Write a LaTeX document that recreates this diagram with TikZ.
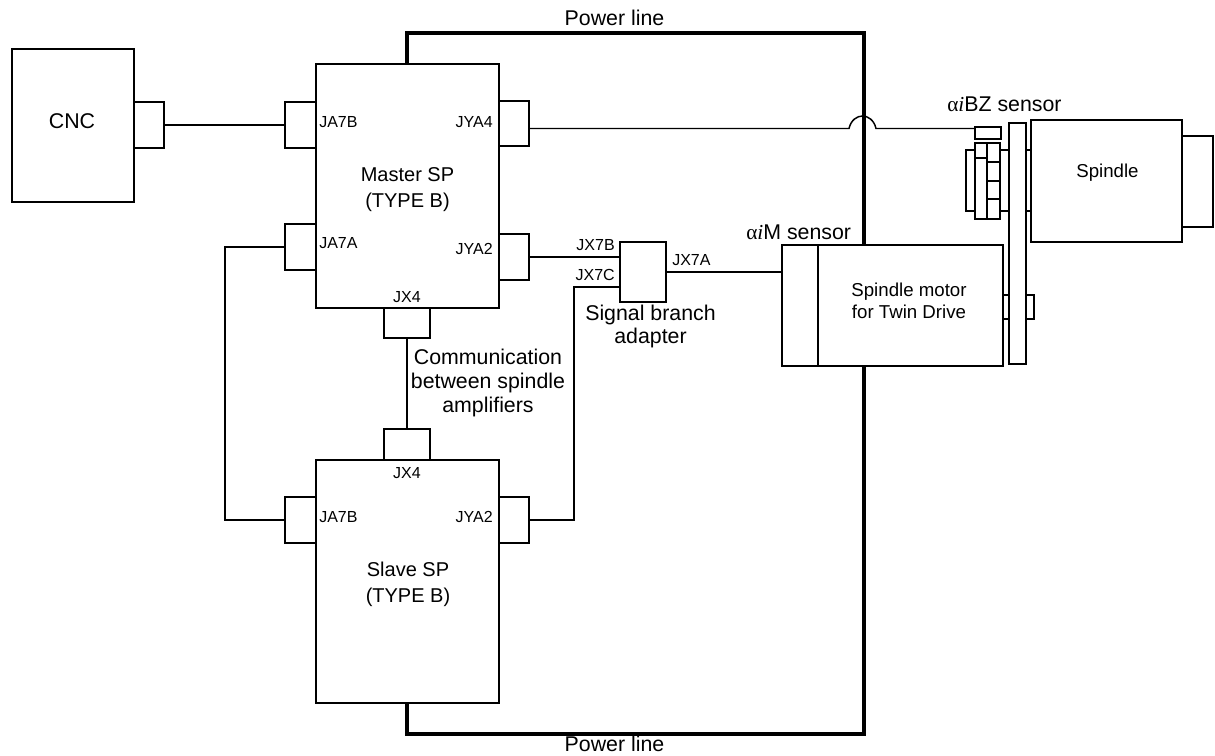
\documentclass[tikz,border=0pt]{standalone}
\usepackage{fontspec}
\setmainfont{Liberation Sans}
\newfontfamily\serifgr{Liberation Serif}
\newcommand{\ai}{{\serifgr α\textit{i}}}
\tikzset{
  boxs/.style={draw=black,line width=1.1pt,inner sep=0pt,outer sep=0pt},
  wire/.style={draw=black,line width=1.1pt},
  power/.style={draw=black,line width=3pt},
  lab/.style={inner sep=0pt,font=\fontsize{12pt}{14pt}\selectfont},
  amp/.style={inner sep=0pt,align=center,font=\fontsize{15pt}{19.5pt}\selectfont},
  big/.style={inner sep=0pt,align=center,font=\fontsize{16pt}{18.3pt}\selectfont},
  adp/.style={inner sep=0pt,align=center,font=\fontsize{16pt}{17.3pt}\selectfont},
  small/.style={inner sep=0pt,align=center,font=\fontsize{14pt}{16.7pt}\selectfont},
}
\newcommand{\bx}[5]{%
  \pgfmathsetmacro{\bw}{(#4-#2)*0.75}\pgfmathsetmacro{\bh}{(#5-#3)*0.75}%
  \pgfmathsetmacro{\bcx}{(#2+#4)/2}\pgfmathsetmacro{\bcy}{(#3+#5)/2}%
  \node[boxs,minimum width=\bw pt,minimum height=\bh pt] (#1) at (\bcx,\bcy) {};}
\begin{document}
\begin{tikzpicture}[x=0.75pt,y=-0.75pt]
\useasboundingbox (0,0) rectangle (1215,756);
\fill[white] (0,0) rectangle (1215,756);
% boxes
\bx{cnc}{12}{49}{134}{202}
\bx{cncp}{134}{102}{164}{148}
\bx{master}{316}{64}{499}{308}
\bx{mja7b}{285}{102}{316}{148}
\bx{mja7a}{285}{224}{316}{270}
\bx{mjya4}{499}{101}{529}{146}
\bx{mjya2}{499}{234}{529}{280}
\bx{mjx4}{384}{308}{430}{338}
\bx{slave}{316}{460}{499}{703}
\bx{sjx4}{384}{429}{430}{460}
\bx{sja7b}{285}{497}{316}{543}
\bx{sjya2}{499}{497}{529}{543}
\bx{adapter}{620}{242}{666}{302}
\bx{msensor}{782}{245}{818}{366}
\bx{motor}{818}{245}{1003}{366}
\bx{plate}{1009}{123}{1026}{364}
\bx{spindle}{1031}{120}{1182}{242}
\bx{rear}{1182}{136}{1213}{227}
\bx{shaftend}{1026}{295}{1034}{319}
\bx{hub}{966}{150}{975}{211}
\bx{gearl}{975}{143}{987}{219}
\bx{gearr}{987}{143}{1000}{219}
\bx{bzsensor}{975}{127}{1001}{139}
% shafts
\draw[wire] (gearr.east |- 0,150) -- (plate.west |- 0,150);
\draw[wire] (gearr.east |- 0,211) -- (plate.west |- 0,211);
\draw[wire] (plate.east |- 0,150) -- (spindle.west |- 0,150);
\draw[wire] (plate.east |- 0,211) -- (spindle.west |- 0,211);
\draw[wire] (motor.east |- 0,295) -- (plate.west |- 0,295);
\draw[wire] (motor.east |- 0,319) -- (plate.west |- 0,319);
\draw[wire] (gearl.west |- 0,158) -- (gearl.east |- 0,158);
\draw[wire] (gearr.west |- 0,162) -- (gearr.east |- 0,162);
\draw[wire] (gearr.west |- 0,181) -- (gearr.east |- 0,181);
\draw[wire] (gearr.west |- 0,199) -- (gearr.east |- 0,199);
\draw[line width=1.7pt] (motor.north west) -- (motor.south west);
% power line
\coordinate (ptl) at (407,33); \coordinate (ptr) at (864,33);
\coordinate (pbl) at (407,734); \coordinate (pbr) at (864,734);
\draw[power] (master.north -| ptl) -- (ptl) -- (ptr) -- (motor.north -| ptr);
\draw[power] (motor.south -| pbr) -- (pbr) -- (pbl) -- (slave.south -| pbl);
% wires
\draw[wire] (cncp) -- (mja7b);
\coordinate (hl) at (849,128.5); \coordinate (hr) at (876,128.5);
\draw[wire] (mjya4.east |- hl) -- (hl) .. controls (851,120) and (857,116) .. (862.5,116) .. controls (868,116) and (874,120) .. (hr) -- (bzsensor.west |- hr);
\draw[wire] (mjya2.east |- 0,257) -- (adapter.west |- 0,257);
\draw[wire] (adapter.east |- 0,272) -- (msensor.west |- 0,272);
\coordinate (lf) at (225,247);
\draw[wire] (mja7a.west) -- (lf) -- (lf |- sja7b.west) -- (sja7b.west);
\coordinate (rf) at (574,520);
\draw[wire] (sjya2.east) -- (rf) -- (574,287) -- (adapter.west |- 0,287);
\draw[wire] (mjx4.south) -- (sjx4.north);
% labels
\node[big] (tcnc) at (72,121) {CNC};
\node[amp] (tmaster) at (407.5,190) {Master SP\\(TYPE B)};
\node[amp] (tslave) at (408,584) {Slave SP\\(TYPE B)};
\node[small] (tspindle) at (1107.5,173) {Spindle};
\node[small] (tmotor) at (909,301) {Spindle motor\\for Twin Drive};
\node[big] (tcomm) at (488,383) {Communication\\between spindle\\amplifiers};
\node[adp] (tadapter) at (650.5,326.5) {Signal branch\\adapter};
\node[big] (tp1) at (614.5,18) {Power line};
\node[big] (tp2) at (614.5,744) {Power line};
\node[big,anchor=west] (tm) at (746,232) {\ai M sensor};
\node[big,anchor=west] (tb) at (947,104) {\ai BZ sensor};
\node[lab,anchor=west] at (319,122) {JA7B};
\node[lab,anchor=west] at (319,243) {JA7A};
\node[lab,anchor=east] at (493,122) {JYA4};
\node[lab,anchor=east] at (493,249) {JYA2};
\node[lab] at (407,297) {JX4};
\node[lab] at (407,473) {JX4};
\node[lab,anchor=west] at (319,517) {JA7B};
\node[lab,anchor=east] at (493,517) {JYA2};
\node[lab,anchor=east] at (615,245) {JX7B};
\node[lab,anchor=east] at (615,275) {JX7C};
\node[lab,anchor=west] at (672,260) {JX7A};
\end{tikzpicture}
\end{document}
